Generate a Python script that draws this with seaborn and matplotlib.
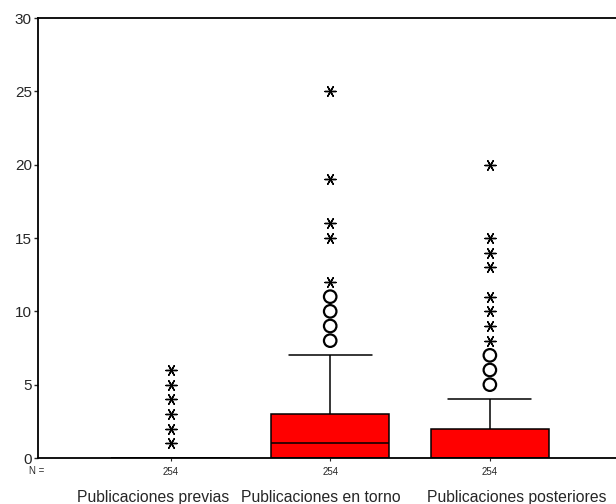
import numpy as np
import pandas as pd
import matplotlib
matplotlib.use("Agg")
import matplotlib.pyplot as plt
import seaborn as sns

sns.set_style("white")
plt.rcParams['font.family'] = ['Liberation Sans', 'DejaVu Sans']

groups = ["Publicaciones previas", "Publicaciones en torno", "Publicaciones posteriores"]
n_labels = ["254", "254", "254"]
label_x = [-0.11, 0.944, 2.17]

# value -> count per group (254 cases each)
prev_values = [0, 1, 2, 3, 4, 5, 6]
prev_counts = [240, 5, 4, 2, 1, 1, 1]
torno_values = [0, 1, 2, 3, 4, 5, 6, 7, 8, 9, 10, 11, 12, 15, 16, 19, 25]
torno_counts = [80, 60, 40, 30, 12, 9, 6, 4, 3, 2, 2, 1, 1, 1, 1, 1, 1]
post_values = [0, 1, 2, 3, 4, 5, 6, 7, 8, 9, 10, 11, 13, 14, 15, 20]
post_counts = [130, 50, 30, 15, 8, 5, 3, 2, 2, 2, 1, 1, 1, 2, 1, 1]

frames = []
for g, vals, cnts in zip(groups, [prev_values, torno_values, post_values],
                         [prev_counts, torno_counts, post_counts]):
    frames.append(pd.DataFrame({"grupo": g, "valor": np.repeat(vals, cnts)}))
df = pd.concat(frames, ignore_index=True)

# classify outliers (circles) and extremes (stars), SPSS-like
circ_rows, star_rows = [], []
for g, vals in zip(groups, [prev_values, torno_values, post_values]):
    d = df.loc[df.grupo == g, "valor"].to_numpy()
    q1, q3 = np.percentile(d, [25, 75])
    iqr = q3 - q1
    hi = d[d <= q3 + 1.49 * iqr].max()
    for v in vals:
        if v > hi:
            if v >= q3 + 3 * iqr and v > q3:
                star_rows.append((g, v))
            else:
                circ_rows.append((g, v))
circ_df = pd.DataFrame(circ_rows, columns=["grupo", "valor"])
star_df = pd.DataFrame(star_rows, columns=["grupo", "valor"])

fig = plt.figure(figsize=(6.16, 5.04), dpi=100)
ax = fig.add_axes([38/616, 1 - 458/504, 1 - 38/616, 440/504])

sns.boxplot(data=df, x="grupo", y="valor", order=groups, color="#ff0000",
            saturation=1, width=0.74, whis=1.49, showfliers=False,
            linecolor="black", linewidth=1.1, capwidths=0.52, ax=ax)

star_marker = (6, 2, 30)
sns.stripplot(data=star_df, x="grupo", y="valor", order=groups, jitter=False,
              marker=star_marker, s=8, color="black", linewidth=1.0, ax=ax)
n_before = len(ax.collections)
sns.stripplot(data=circ_df, x="grupo", y="valor", order=groups, jitter=False,
              marker="o", s=9, color="black", ax=ax)
for coll in ax.collections[n_before:]:
    coll.set_facecolor("none")
    coll.set_edgecolor("black")
    coll.set_linewidth(1.6)
for c in list(ax.collections):
    offs = c.get_offsets()
    if len(offs) == 0:
        c.remove()
        continue
    c.set_zorder(5)
    c.set_clip_on(False)

ax.set_xlim(-0.83, 2.79)
ax.set_ylim(0, 30)
ax.set_yticks([0, 5, 10, 15, 20, 25, 30])
ax.set_xticks([0, 1, 2])
ax.set_xticklabels(n_labels, fontsize=7)
ax.tick_params(axis="y", labelsize=11, length=3, width=1, pad=1.5, left=True, direction="out")
ax.tick_params(axis="x", length=2.5, width=0.8, pad=4, bottom=True, direction="out")
ax.set_xlabel("")
ax.set_ylabel("")
for side in ["left", "bottom", "top"]:
    ax.spines[side].set_visible(True)
    ax.spines[side].set_color("black")
    ax.spines[side].set_linewidth(1.3)
ax.spines["right"].set_visible(False)

for xp, g in zip(label_x, groups):
    ax.annotate(g, xy=(xp, 0), xycoords=("data", "axes fraction"),
                xytext=(0, -28.5), textcoords="offset points",
                ha="center", va="center", fontsize=11.3)
fig.text(29/616, 1 - 471/504, "N =", fontsize=7, ha="left", va="center")

fig.savefig("out.png", dpi=100)
